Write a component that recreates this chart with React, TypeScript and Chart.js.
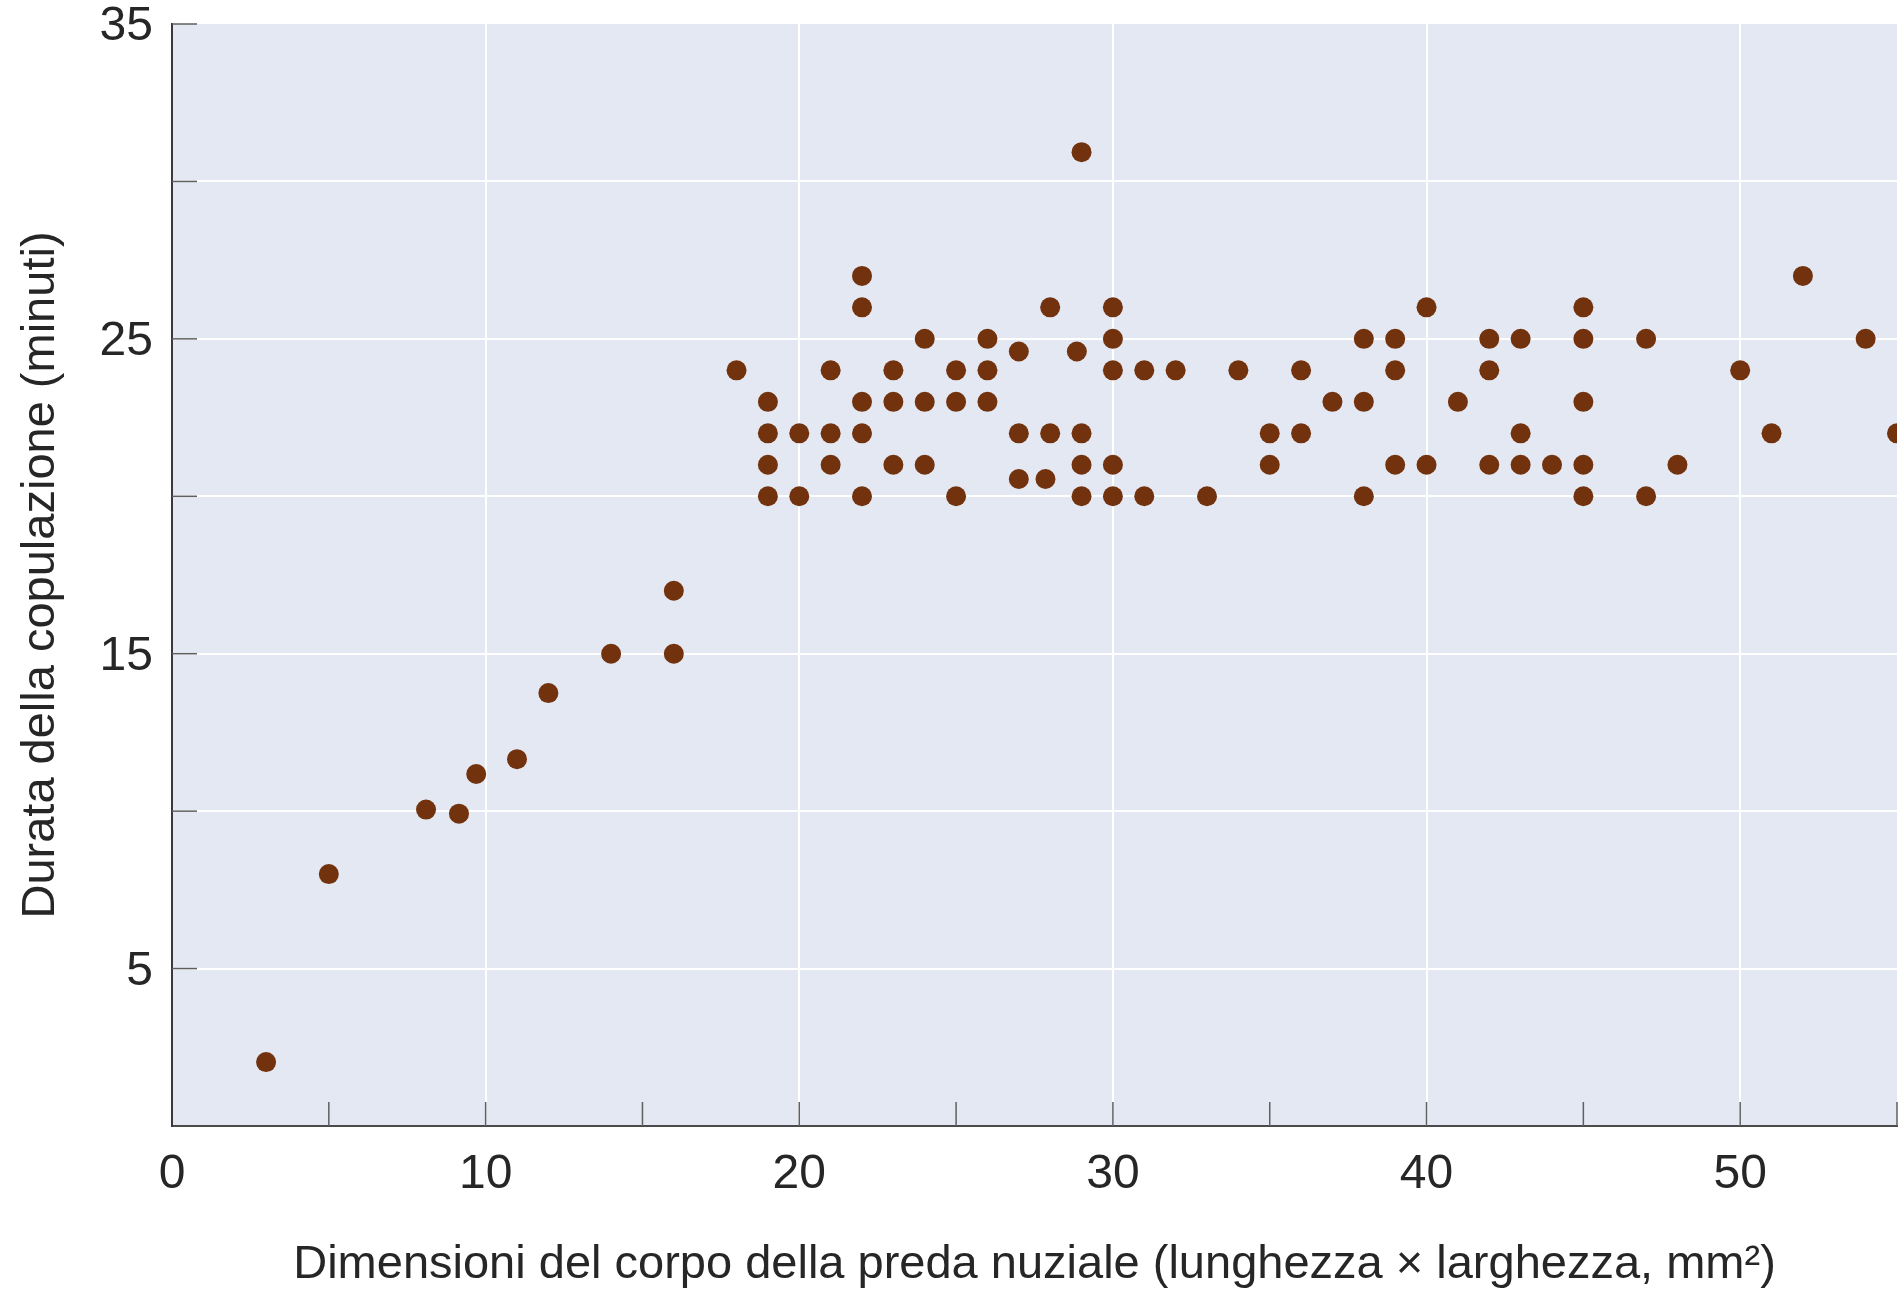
import React, { useEffect, useRef } from "react";
import { Chart, registerables } from "chart.js";

Chart.register(...registerables);

// Body size of the nuptial prey (length x width, mm²)
const preySize: number[] = [
  3, 5, 8.1, 9.15, 9.7, 11, 12, 14, 16, 16,
  18,
  19, 19, 19, 19,
  20, 20,
  21, 21, 21,
  22, 22, 22, 22, 22,
  23, 23, 23,
  24, 24, 24,
  25, 25, 25,
  26, 26, 26,
  27, 27, 27,
  27.85,
  28, 28,
  28.85,
  29, 29, 29, 29,
  30, 30, 30, 30, 30,
  31, 31,
  32,
  33,
  34,
  35, 35,
  36, 36,
  37,
  38, 38, 38,
  39, 39, 39,
  40, 40,
  41,
  42, 42, 42,
  43, 43, 43,
  44,
  45, 45, 45, 45, 45,
  47, 47,
  48,
  50,
  51,
  52,
  54,
  55,
];

// Copulation duration (minutes)
const copulationMinutes: number[] = [
  2.03, 8, 10.05, 9.92, 11.18, 11.65, 13.75, 15, 15, 17,
  24,
  23, 22, 21, 20,
  22, 20,
  24, 22, 21,
  27, 26, 23, 22, 20,
  24, 23, 21,
  25, 23, 21,
  24, 23, 20,
  25, 24, 23,
  24.6, 22, 20.55,
  20.55,
  26, 22,
  24.6,
  30.93, 22, 21, 20,
  26, 25, 24, 21, 20,
  24, 20,
  24,
  20,
  24,
  22, 21,
  24, 22,
  23,
  25, 23, 20,
  25, 24, 21,
  26, 21,
  23,
  25, 24, 21,
  25, 22, 21,
  21,
  26, 25, 23, 21, 20,
  25, 20,
  21,
  24,
  22,
  27,
  25,
  22,
];

const xTickLabels: number[] = [0, 10, 20, 30, 40, 50];
const yTickLabels: number[] = [5, 15, 25, 35];

const xTitle = "Dimensioni del corpo della preda nuziale (lunghezza × larghezza, mm²)";
const yTitle = "Durata della copulazione (minuti)";

const FONT = "'Liberation Sans', Arial, Helvetica, sans-serif";

const bgPlugin = {
  id: "plotBg",
  beforeDraw(chart: any) {
    const { ctx, chartArea } = chart;
    ctx.save();
    ctx.fillStyle = "#e4e8f3";
    ctx.fillRect(chartArea.left, chartArea.top, chartArea.right - chartArea.left, chartArea.bottom - chartArea.top);
    ctx.restore();
  },
};

const innerTicksPlugin = {
  id: "innerTicks",
  beforeDatasetsDraw(chart: any) {
    const { ctx, chartArea } = chart;
    const xs = chart.scales.x;
    const ys = chart.scales.y;
    ctx.save();
    ctx.strokeStyle = "#5f5f5f";
    ctx.lineWidth = 1.5;
    xs.ticks.forEach((t: any) => {
      if (t.value === 0) return;
      const px = xs.getPixelForValue(t.value);
      ctx.beginPath();
      ctx.moveTo(px, chartArea.bottom);
      ctx.lineTo(px, chartArea.bottom - 24);
      ctx.stroke();
    });
    ys.ticks.forEach((t: any) => {
      if (t.value === 0) return;
      const py = ys.getPixelForValue(t.value);
      ctx.beginPath();
      ctx.moveTo(chartArea.left, py);
      ctx.lineTo(chartArea.left + 25, py);
      ctx.stroke();
    });
    ctx.restore();
  },
};

export default function App() {
  const ref = useRef<HTMLCanvasElement | null>(null);

  useEffect(() => {
    if (!ref.current) return;
    const data = preySize.map((x, i) => ({ x, y: copulationMinutes[i] }));
    const chart = new Chart(ref.current, {
      type: "scatter",
      data: {
        datasets: [
          {
            data,
            backgroundColor: "#72320e",
            borderColor: "#72320e",
            borderWidth: 0,
            pointRadius: 10,
            pointHoverRadius: 10,
            clip: 0,
          } as any,
        ],
      },
      plugins: [bgPlugin, innerTicksPlugin],
      options: {
        animation: false,
        responsive: false,
        devicePixelRatio: 1,
        layout: { autoPadding: false, padding: { left: 0, right: 4, top: 24, bottom: 0 } },
        plugins: { legend: { display: false }, tooltip: { enabled: false } },
        scales: {
          x: {
            type: "linear",
            min: 0,
            max: 55,
            afterFit(scale: any) {
              scale.height = 164;
              scale.paddingLeft = 0;
              scale.paddingRight = 0;
              scale.paddingTop = 0;
              scale.paddingBottom = 0;
            },
            afterBuildTicks(scale: any) {
              const t: any[] = [];
              for (let v = 0; v <= 55; v += 5) t.push({ value: v });
              scale.ticks = t;
            },
            ticks: {
              autoSkip: false,
              maxRotation: 0,
              padding: 25,
              color: "#262626",
              font: { family: FONT, size: 48, weight: "normal", lineHeight: 1 },
              callback: (v: any) => (xTickLabels.includes(Number(v)) ? String(v) : ""),
            },
            grid: {
              drawTicks: false,
              lineWidth: 2,
              color: (c: any) => (c.tick && c.tick.value % 10 === 0 && c.tick.value !== 0 ? "#ffffff" : "rgba(0,0,0,0)"),
            },
            border: { display: true, color: "#4a4a4a", width: 2 },
            title: {
              display: true,
              text: xTitle,
              color: "#262626",
              font: { family: FONT, size: 47, weight: "normal", lineHeight: 1 },
              padding: { top: 0, bottom: 1 },
            },
          },
          y: {
            type: "linear",
            min: 0,
            max: 35,
            afterFit(scale: any) {
              scale.width = 172;
              scale.paddingLeft = 0;
              scale.paddingRight = 0;
              scale.paddingTop = 0;
              scale.paddingBottom = 0;
            },
            afterBuildTicks(scale: any) {
              const t: any[] = [];
              for (let v = 0; v <= 35; v += 5) t.push({ value: v });
              scale.ticks = t;
            },
            ticks: {
              autoSkip: false,
              padding: 19,
              labelOffset: 3,
              color: "#262626",
              font: { family: FONT, size: 48, weight: "normal", lineHeight: 1 },
              callback: (v: any) => (yTickLabels.includes(Number(v)) ? String(v) : ""),
            },
            grid: {
              drawTicks: false,
              lineWidth: 2,
              color: (c: any) => (c.tick && c.tick.value > 0 && c.tick.value < 35 ? "#ffffff" : "rgba(0,0,0,0)"),
            },
            border: { display: true, color: "#3a3a3a", width: 2 },
            title: {
              display: true,
              text: yTitle,
              color: "#262626",
              font: { family: FONT, size: 47, weight: "normal", lineHeight: 1 },
              padding: { top: 18, bottom: 0 },
            },
          },
        },
      },
    });
    return () => chart.destroy();
  }, []);

  return (
    <div style={{ position: "fixed", left: 0, top: 0, width: 1901, height: 1290, background: "#ffffff" }}>
      <canvas ref={ref} width={1901} height={1290} style={{ width: 1901, height: 1290, display: "block" }} />
    </div>
  );
}
